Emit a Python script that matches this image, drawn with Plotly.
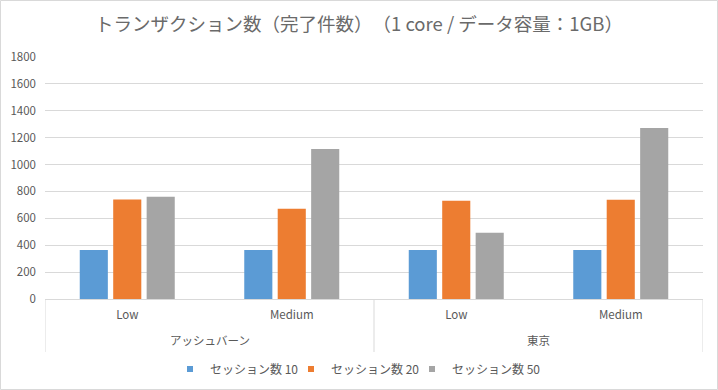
import plotly.graph_objects as go

regions = ["アッシュバーン", "アッシュバーン", "東京", "東京"]
loads = ["Low", "Medium", "Low", "Medium"]
series_names = ["セッション数 10", "セッション数 20", "セッション数 50"]
s10 = [365, 365, 365, 365]
s20 = [740, 672, 730, 738]
s50 = [760, 1115, 492, 1272]
colors = ["#5B9BD5", "#ED7D31", "#A5A5A5"]
y_ticks = [0, 200, 400, 600, 800, 1000, 1200, 1400, 1600, 1800]

FONT = "Noto Sans CJK JP"
TXT = "#595959"
LINE = "#D9D9D9"

W, H = 718, 390
ML, MR, MT, MB = 45, 15, 57, 91
PW, PH = W - ML - MR, H - MT - MB

pos = list(range(len(loads)))

fig = go.Figure()
for name, vals, col in zip(series_names, [s10, s20, s50], colors):
    fig.add_trace(go.Bar(x=pos, y=vals, name=name, showlegend=False, legendgroup=name,
                         marker=dict(color=col, line=dict(width=0))))
# legend entries with small square swatches (as in the original)
for name, col in zip(series_names, colors):
    fig.add_trace(go.Scatter(x=[None], y=[None], mode="markers", name=name, legendgroup=name,
                             marker=dict(symbol="square", size=6, color=col, line=dict(width=0))))

fig.update_layout(
    width=W, height=H,
    margin=dict(l=ML, r=MR, t=MT, b=MB, autoexpand=False),
    paper_bgcolor="white", plot_bgcolor="white",
    barmode="group", bargap=0.39, bargroupgap=0.16,
    font=dict(family=FONT, size=12, color=TXT),
    title=dict(text="トランザクション数（完了件数）　（1 core / データ容量：1GB）",
               x=0.5, xref="container", xanchor="center", y=1 - 25 / H, yref="container",
               yanchor="middle",
               font=dict(family=FONT, size=18.5, color="#6A6A6A")),
    legend=dict(orientation="h", x=170 / W, xanchor="left", xref="container",
                y=(H - 369) / H, yref="container", yanchor="middle",
                font=dict(family=FONT, size=12, color=TXT), entrywidth=76,
                entrywidthmode="pixels", traceorder="normal", itemsizing="trace",
                bgcolor="rgba(0,0,0,0)"),
    showlegend=True,
)
fig.update_xaxes(range=[-0.5, len(loads) - 0.5], tickvals=pos, ticktext=loads,
                 showline=True, linecolor=LINE, linewidth=1,
                 ticks="", tickfont=dict(family=FONT, size=11.5, color=TXT),
                 ticklabelstandoff=5, showgrid=False, zeroline=False, automargin=False)
fig.update_yaxes(range=[0, 1800], tickvals=y_ticks, showgrid=True, gridcolor=LINE,
                 gridwidth=1, zeroline=False, showline=False, ticks="",
                 tickfont=dict(family=FONT, size=11.5, color=TXT), ticklabelstandoff=8,
                 automargin=False)

# region (second level) labels and dividers
groups = []
for i, r in enumerate(regions):
    if not groups or groups[-1][0] != r:
        groups.append([r, i, i])
    else:
        groups[-1][2] = i
for r, i0, i1 in groups:
    fig.add_annotation(x=(i0 + i1) / 2, xref="x", y=-41 / PH, yref="paper",
                       text=r, showarrow=False, yanchor="middle",
                       font=dict(family=FONT, size=11.5, color=TXT))
bounds = [groups[0][1] - 0.5] + [g[2] + 0.5 for g in groups]
for b in bounds:
    fig.add_shape(type="line", xref="x", yref="paper", x0=b, x1=b, y0=0, y1=-53 / PH,
                  line=dict(color=LINE, width=1))

# chart border
fig.add_shape(type="rect", xref="paper", yref="paper",
              x0=-(ML - 0.5) / PW, x1=1 + (MR - 0.5) / PW,
              y0=-(MB - 0.5) / PH, y1=1 + (MT - 0.5) / PH,
              line=dict(color=LINE, width=1), fillcolor="rgba(0,0,0,0)", layer="below")

post = (
    "document.body.style.margin='0';document.body.style.padding='0';"
    "document.querySelectorAll('.legend .scrollbox').forEach(function(e){e.removeAttribute('clip-path');});"
    "document.querySelectorAll('.legend').forEach(function(e){e.removeAttribute('clip-path');});"
)
fig.write_html("out.html", config={"displayModeBar": False}, post_script=post)
